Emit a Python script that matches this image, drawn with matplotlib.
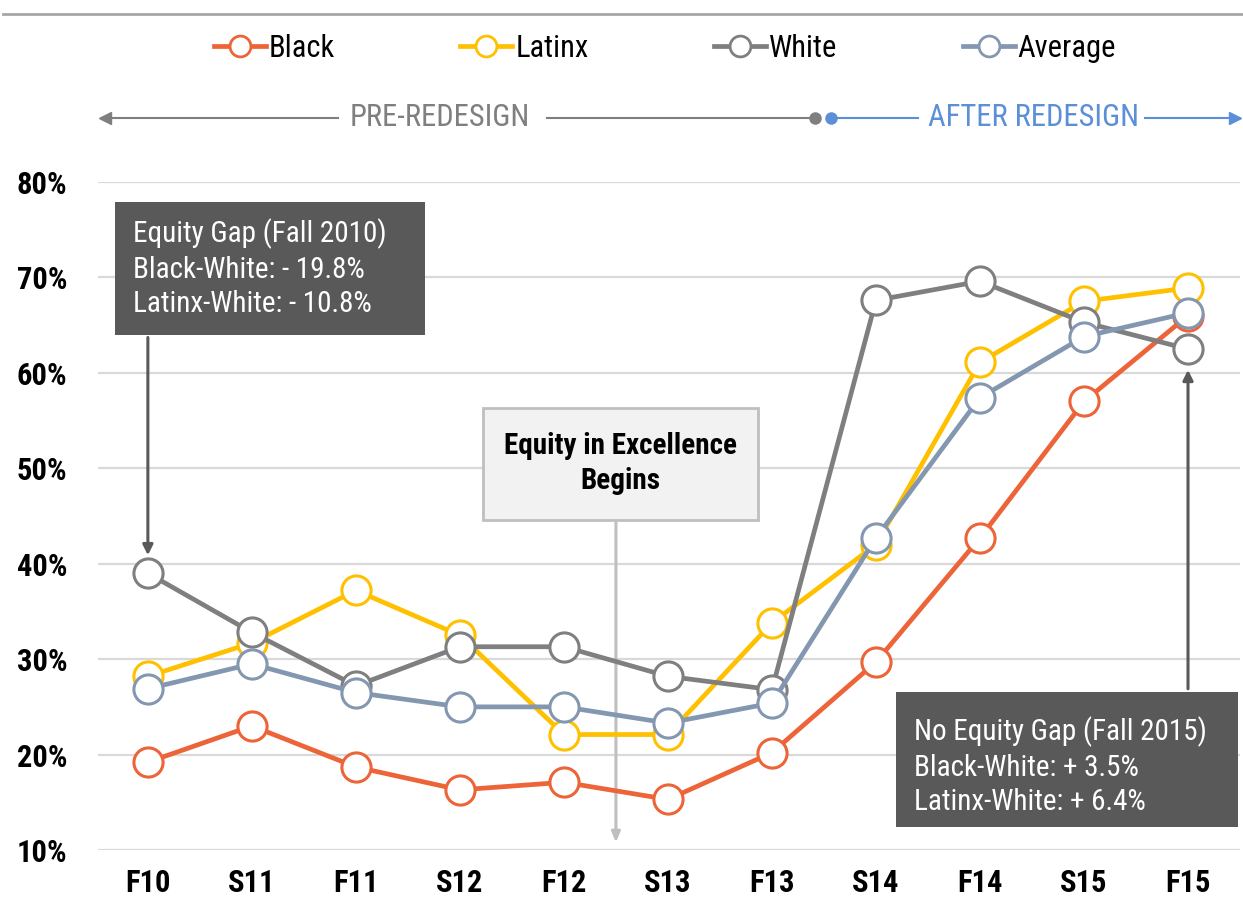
import matplotlib
matplotlib.use("Agg")
import matplotlib.pyplot as plt
from matplotlib import font_manager
from matplotlib.lines import Line2D
from matplotlib.patches import Rectangle

# ===== fonts =====
names = {f.name for f in font_manager.fontManager.ttflist}
font = "DejaVu Sans"
for cand in ["Liberation Sans Narrow", "Roboto Condensed", "Open Sans Condensed", "Liberation Sans"]:
    if cand in names:
        font = cand
        break
plt.rcParams["font.family"] = [font, "DejaVu Sans"]

# ===== data =====
terms = ["F10", "S11", "F11", "S12", "F12", "S13", "F13", "S14", "F14", "S15", "F15"]
black = [19.2, 23.0, 18.7, 16.3, 17.1, 15.3, 20.2, 29.7, 42.7, 57.0, 66.0]
latinx = [28.2, 31.7, 37.2, 32.5, 22.1, 22.1, 33.8, 42.0, 61.1, 67.5, 68.9]
white = [39.0, 32.8, 27.2, 31.3, 31.3, 28.2, 26.8, 67.6, 69.6, 65.3, 62.5]
average = [26.9, 29.5, 26.5, 25.0, 25.0, 23.3, 25.4, 42.7, 57.4, 63.8, 66.3]
yticks = [10, 20, 30, 40, 50, 60, 70, 80]

series = [
    ("Black", black, "#EC6438"),
    ("Latinx", latinx, "#FFC000"),
    ("White", white, "#7F7F7F"),
    ("Average", average, "#8497B0"),
]

fig = plt.figure(figsize=(12.43, 9.01), dpi=100)
ax = fig.add_axes([0.0788, 0.0566, 0.9188, 0.7414])

x = list(range(len(terms)))
for name, vals, col in series:
    ax.plot(x, vals, color=col, lw=3.4, marker="o", ms=21, mfc="white",
            mec=col, mew=2.2, zorder=3)

ax.set_xlim(-0.48, 10.5)
ax.set_ylim(10, 80)
ax.set_yticks(yticks)
ax.set_yticklabels([f"{v}%" for v in yticks], fontsize=22, fontweight="bold")
ax.set_xticks(x)
ax.set_xticklabels(terms, fontsize=22, fontweight="bold")
ax.tick_params(axis="x", length=0, pad=13)
ax.tick_params(axis="y", length=0, pad=22)
ax.grid(axis="y", color="#D9D9D9", lw=1.6)
ax.set_axisbelow(True)
for s in ax.spines.values():
    s.set_visible(False)

# ===== annotation boxes =====
# Fall 2010 box
ax.add_patch(Rectangle((-0.32, 64.0), 2.98, 13.9, facecolor="#595959",
                       edgecolor="none", clip_on=False, zorder=5))
ax.text(-0.14, 76.2, "Equity Gap (Fall 2010)\nBlack-White: - 19.8%\nLatinx-White: - 10.8%",
        color="white", fontsize=21, va="top", ha="left", linespacing=1.3, zorder=6)
ax.annotate("", xy=(0, 40.6), xytext=(0, 64.0),
            arrowprops=dict(arrowstyle="-|>,head_length=0.6,head_width=0.3",
                            color="#595959", lw=2.2), zorder=4)

# Equity in Excellence box
ax.annotate("", xy=(4.5, 10.5), xytext=(4.5, 44.6),
            arrowprops=dict(arrowstyle="-|>,head_length=0.6,head_width=0.25",
                            color="#BFBFBF", lw=2.2), zorder=2)
ax.add_patch(Rectangle((3.22, 44.6), 2.65, 11.7, facecolor="#F2F2F2",
                       edgecolor="#BFBFBF", lw=2, clip_on=False, zorder=5))
ax.text(4.545, 50.5, "Equity in Excellence\nBegins", color="black", fontsize=21,
        fontweight="bold", ha="center", va="center", linespacing=1.3, zorder=6)

# Fall 2015 box
ax.add_patch(Rectangle((7.19, 12.4), 3.29, 14.2, facecolor="#595959",
                       edgecolor="none", clip_on=False, zorder=5))
ax.text(7.37, 24.0, "No Equity Gap (Fall 2015)\nBlack-White: + 3.5%\nLatinx-White: + 6.4%",
        color="white", fontsize=21, va="top", ha="left", linespacing=1.3, zorder=6)
ax.annotate("", xy=(10, 60.6), xytext=(10, 26.6),
            arrowprops=dict(arrowstyle="-|>,head_length=0.6,head_width=0.3",
                            color="#595959", lw=2.2), zorder=4)

# ===== legend =====
handles = [Line2D([], [], color=c, lw=3.4, marker="o", ms=15, mfc="white", mec=c, mew=2)
           for _, _, c in series]
fig.legend(handles, [n for n, _, _ in series], loc="center", ncol=4,
           bbox_to_anchor=(0.535, 0.946), frameon=False, fontsize=22,
           handlelength=1.7, handletextpad=0.1, columnspacing=4.1)

# ===== top rule and redesign arrows =====
fig.add_artist(Line2D([3 / 1243, 1.0], [1 - 14 / 901] * 2, color="#A6A6A6", lw=2))

yy = 1 - 118 / 901
gray, blue = "#7F7F7F", "#5B8FD7"
fig.add_artist(Line2D([338 / 1243, 105 / 1243], [yy, yy], color=gray, lw=1.5))
fig.add_artist(Line2D([547 / 1243, 815 / 1243], [yy, yy], color=gray, lw=1.5))
fig.add_artist(Line2D([918 / 1243, 831 / 1243], [yy, yy], color=blue, lw=1.5))
fig.add_artist(Line2D([1145 / 1243, 1235 / 1243], [yy, yy], color=blue, lw=1.5))
fig.add_artist(Line2D([815 / 1243], [yy], color=gray, marker="o", ms=8, lw=0))
fig.add_artist(Line2D([831 / 1243], [yy], color=blue, marker="o", ms=8, lw=0))
fig.add_artist(Line2D([105 / 1243], [yy], color=gray, marker="<", ms=9, lw=0))
fig.add_artist(Line2D([1235 / 1243], [yy], color=blue, marker=">", ms=9, lw=0))
fig.text(440 / 1243, yy, "PRE-REDESIGN", color=gray, fontsize=22, ha="center", va="center")
fig.text(1033 / 1243, yy, "AFTER REDESIGN", color=blue, fontsize=22, ha="center", va="center")

fig.savefig("out.png", dpi=100)
